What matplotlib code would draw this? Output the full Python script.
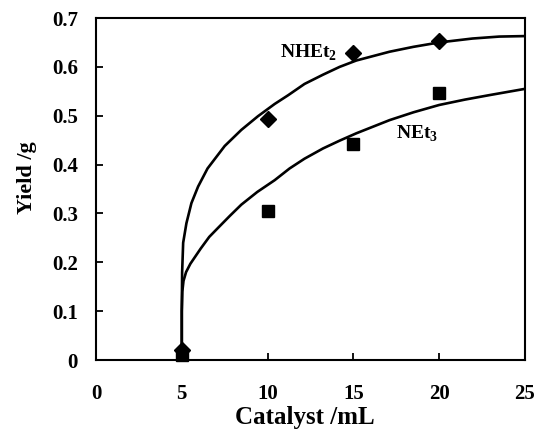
import matplotlib
matplotlib.use('Agg')
import matplotlib.pyplot as plt

# measured points
catalyst = [5, 10, 15, 20]
yield_nhet2 = [0.02, 0.493, 0.628, 0.652]
yield_net3 = [0.01, 0.304, 0.443, 0.547]

# trend curves
fit_x_nhet2 = [5.0, 5.0, 5.02, 5.08, 5.27, 5.56, 5.95, 6.5, 7.5, 8.47, 9.44, 10.41, 11.2,
               12.15, 13.23, 14.2, 15.17, 17.11, 18.5, 20.0, 21.94, 23.5, 25.0]
fit_y_nhet2 = [0.0, 0.1, 0.18, 0.24, 0.28, 0.321, 0.355, 0.392, 0.438, 0.471, 0.499, 0.524, 0.542,
               0.565, 0.584, 0.600, 0.613, 0.631, 0.641, 0.650, 0.658, 0.662, 0.663]
fit_x_net3 = [5.0, 5.0, 5.03, 5.1, 5.25, 5.5, 6.1, 6.6, 7.1, 7.8, 8.47, 9.4, 10.41, 11.28,
              12.15, 13.23, 14.2, 15.17, 17.11, 18.5, 20.0, 21.5, 22.9, 25.0]
fit_y_net3 = [0.0, 0.1, 0.14, 0.162, 0.18, 0.197, 0.228, 0.252, 0.27, 0.295, 0.318, 0.344, 0.368, 0.392,
              0.412, 0.433, 0.449, 0.464, 0.491, 0.507, 0.522, 0.533, 0.542, 0.555]

plt.rcParams['font.family'] = ['Liberation Serif', 'DejaVu Serif']
plt.rcParams['font.weight'] = 'bold'
plt.rcParams['mathtext.fontset'] = 'custom'
plt.rcParams['mathtext.bf'] = 'Liberation Serif:bold'
plt.rcParams['mathtext.rm'] = 'Liberation Serif'

fig = plt.figure(figsize=(5.39, 4.36), dpi=100)
ax = fig.add_axes([0.1781, 0.1743, 0.7959, 0.7844])

ax.plot(fit_x_nhet2, fit_y_nhet2, color='black', lw=1.9, solid_joinstyle='round')
ax.plot(fit_x_net3, fit_y_net3, color='black', lw=1.9, solid_joinstyle='round')
ax.plot(catalyst, yield_nhet2, 'D', color='black', ms=8, clip_on=False)
ax.plot(catalyst, yield_net3, 's', color='black', ms=8, clip_on=False)

ax.text(10.7, 0.628, r'NHEt$_\mathbf{2}$', fontsize=14, fontweight='bold', va='center', ha='left')
ax.text(17.5, 0.462, r'NEt$_\mathbf{3}$', fontsize=14, fontweight='bold', va='center', ha='left')

ax.set_xlim(0, 25)
ax.set_ylim(0, 0.7)
ax.set_xticks([0, 5, 10, 15, 20, 25])
ax.set_yticks([0, 0.1, 0.2, 0.3, 0.4, 0.5, 0.6, 0.7])
ax.set_yticklabels(['0', '0.1', '0.2', '0.3', '0.4', '0.5', '0.6', '0.7'])
ax.tick_params(direction='in', length=5, width=1.3, labelsize=15)
ax.tick_params(axis='x', pad=17)
ax.tick_params(axis='y', pad=13)
for s in ax.spines.values():
    s.set_linewidth(1.5)

ax.set_xlabel('Catalyst /mL', fontsize=18, fontweight='bold')
ax.xaxis.set_label_coords(0.487, -0.135)
ax.set_ylabel('Yield /g', fontsize=16, fontweight='bold')
ax.yaxis.set_label_coords(-0.137, 0.532)

fig.savefig('out.png', dpi=100)
